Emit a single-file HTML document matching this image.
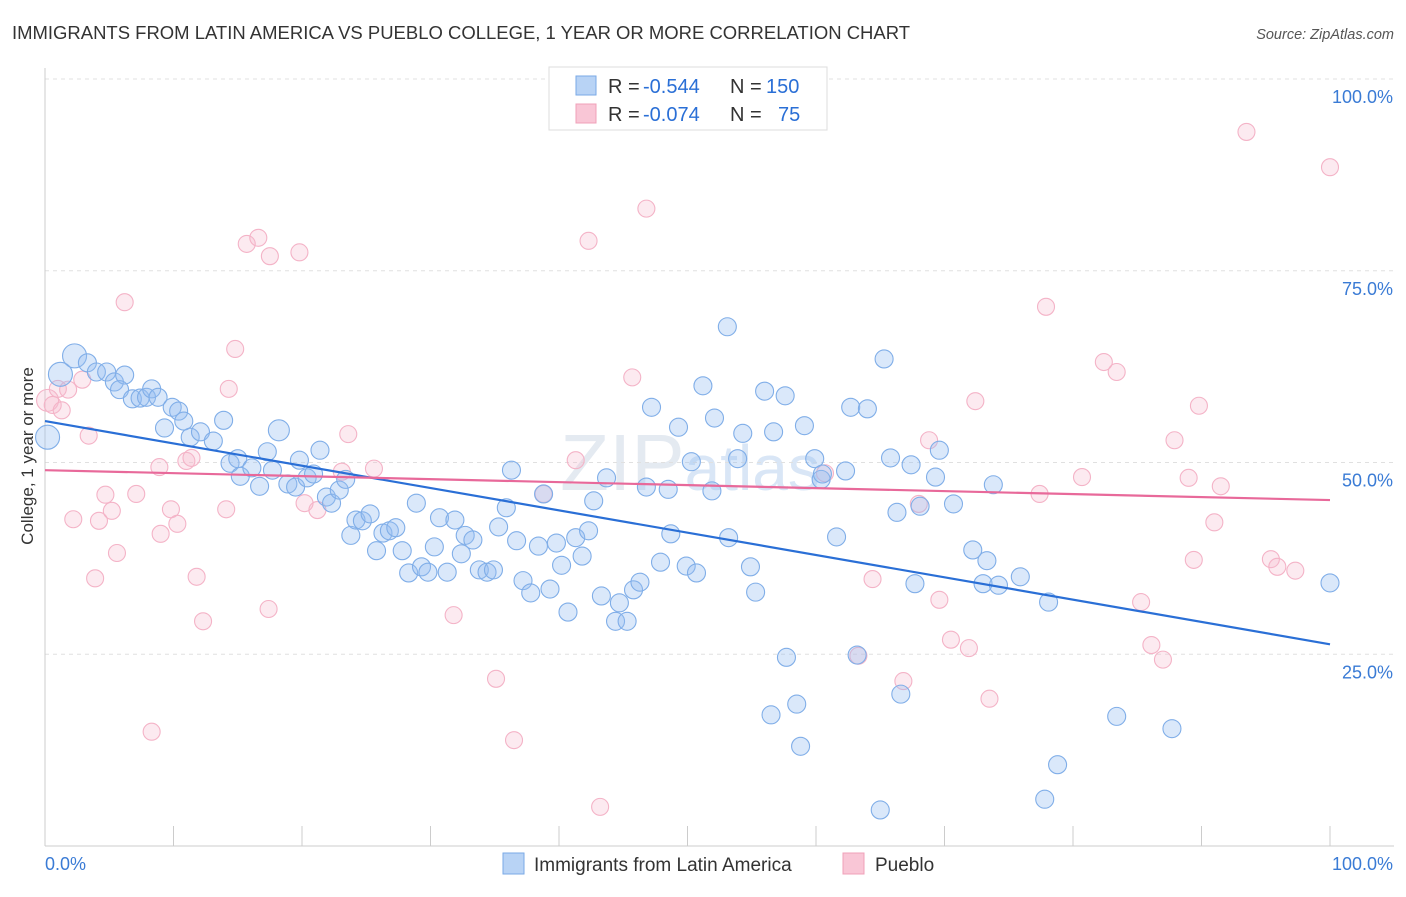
<!DOCTYPE html>
<html><head><meta charset="utf-8"><style>
body{margin:0;background:#fff;font-family:"Liberation Sans",sans-serif}
svg text{font-family:"Liberation Sans",sans-serif}
</style></head><body>
<svg id="chart" width="1406" height="892" viewBox="0 0 1406 892">
<text x="12" y="39" font-size="18.3" fill="#333" textLength="898" lengthAdjust="spacingAndGlyphs">IMMIGRANTS FROM LATIN AMERICA VS PUEBLO COLLEGE, 1 YEAR OR MORE CORRELATION CHART</text>
<text x="1394" y="39" font-size="14.5" fill="#555" text-anchor="end" font-style="italic">Source: ZipAtlas.com</text>
<text x="690" y="490" font-size="80" fill="#e4eaf1" text-anchor="middle" font-family="Liberation Serif">ZIP<tspan fill="#d9e6f6" font-family="Liberation Sans" font-size="64">atlas</tspan></text>
<g id="grid"></g>
<g id="axes"></g>
<g id="marks"></g>
<text transform="translate(33,456) rotate(-90)" font-size="17" fill="#333" text-anchor="middle">College, 1 year or more</text>
<g>
<rect x="549" y="67" width="278" height="63" fill="#fff" stroke="#ddd"/>
<rect x="576" y="76" width="20" height="19" fill="#b8d3f5" stroke="#7aaae6"/>
<rect x="576" y="104" width="20" height="19" fill="#f9c6d6" stroke="#f0a0b8"/>
<text x="608" y="93" font-size="20" fill="#333">R =</text>
<text x="643" y="93" font-size="20" fill="#2a6fd6">-0.544</text>
<text x="730" y="93" font-size="20" fill="#333">N =</text>
<text x="766" y="93" font-size="20" fill="#2a6fd6">150</text>
<text x="608" y="121" font-size="20" fill="#333">R =</text>
<text x="643" y="121" font-size="20" fill="#2a6fd6">-0.074</text>
<text x="730" y="121" font-size="20" fill="#333">N =</text>
<text x="778" y="121" font-size="20" fill="#2a6fd6">75</text>
</g>
<g>
<rect x="503" y="853" width="21" height="21" fill="#b8d3f5" stroke="#7aaae6"/>
<text x="534" y="871" font-size="19" fill="#333">Immigrants from Latin America</text>
<rect x="843" y="853" width="21" height="21" fill="#f9c6d6" stroke="#f0a0b8"/>
<text x="875" y="871" font-size="19" fill="#333">Pueblo</text>
</g>
</svg>
<script>
const yTicks=[100,75,50,25];
const yTickLabels=["100.0%","75.0%","50.0%","25.0%"];
const xTicks=[0,10,20,30,40,50,60,70,80,90,100];
const blueX=[0.2,1.2,2.3,3.3,4.0,4.8,5.4,6.2,5.8,6.8,7.4,7.9,8.3,8.8,9.3,9.9,10.4,10.8,11.3,12.1,13.1,13.9,14.4,15.2,15.0,16.1,16.7,17.3,17.7,18.2,18.9,19.5,19.8,20.4,20.9,21.4,21.9,22.3,22.9,23.4,23.8,24.2,24.7,25.3,25.8,26.3,26.8,27.3,27.8,28.3,28.9,29.3,29.8,30.3,30.7,31.3,31.9,32.4,32.7,33.3,33.8,34.4,34.9,35.3,35.9,36.3,36.7,37.2,37.8,38.4,38.8,39.3,39.8,40.2,40.7,41.3,41.8,42.3,42.7,43.3,43.7,44.4,44.7,45.3,45.8,46.3,46.8,47.2,47.9,48.5,48.7,49.3,49.9,50.3,50.7,51.2,51.9,52.1,53.1,53.2,53.9,54.3,54.9,55.3,56.0,56.5,56.7,57.6,57.7,58.5,58.8,59.1,59.9,60.4,60.5,61.6,62.3,62.7,63.2,64.0,65.0,65.3,65.8,66.3,66.6,67.4,67.7,68.1,69.3,69.6,70.7,72.2,73.0,73.3,73.8,74.2,75.9,77.8,78.1,78.8,83.4,87.7,100];
const blueY=[53.3,61.5,63.9,63.0,61.8,61.8,60.5,61.4,59.5,58.3,58.4,58.5,59.6,58.5,54.5,57.2,56.7,55.4,53.3,54.0,52.8,55.5,49.9,48.2,50.5,49.3,46.9,51.4,49.0,54.2,47.2,46.8,50.3,48.0,48.5,51.6,45.5,44.7,46.4,47.8,40.5,42.5,42.4,43.3,38.5,40.8,41.1,41.5,38.5,35.6,44.7,36.4,35.7,39.0,42.8,35.7,42.5,38.1,40.5,39.9,36.0,35.7,36.0,41.6,44.1,49.0,39.8,34.6,33.0,39.1,45.9,33.5,39.5,36.6,30.5,40.2,37.8,41.1,45.0,32.6,48.0,29.3,31.7,29.3,33.4,34.4,46.8,57.2,37.0,46.5,40.7,54.6,36.5,50.1,35.6,60.0,46.3,55.8,67.7,40.2,50.5,53.8,36.4,33.1,59.3,17.1,54.0,58.7,24.6,18.5,13.0,54.8,50.5,47.8,48.5,40.3,48.9,57.2,24.9,57.0,4.7,63.5,50.6,43.5,19.8,49.7,34.2,44.3,48.1,51.6,44.6,38.6,34.2,37.2,47.1,34.0,35.1,6.1,31.8,10.6,16.9,15.3,34.3];
const pinkX=[0.2,0.6,1.0,1.3,1.8,2.9,3.4,2.2,3.9,4.2,4.7,5.2,5.6,6.2,7.1,8.3,8.9,9.0,9.8,10.3,11.0,11.4,11.8,12.3,14.1,14.3,14.8,15.7,16.6,17.5,17.4,19.8,20.2,21.2,23.1,23.6,25.6,31.8,35.1,36.5,38.8,41.3,42.3,43.2,45.7,46.8,60.7,63.3,64.4,66.8,68.0,68.8,69.6,70.5,71.9,72.4,73.5,77.4,77.9,80.7,82.4,83.4,85.3,86.1,87.0,87.9,89.0,89.4,89.8,91.0,91.5,93.5,95.4,95.9,97.3,100];
const pinkY=[58.1,57.5,59.6,56.8,59.5,60.8,53.5,42.6,34.9,42.4,45.8,43.7,38.2,70.9,45.9,14.9,49.4,40.7,43.9,42.0,50.2,50.6,35.1,29.3,43.9,59.6,64.8,78.5,79.3,76.9,30.9,77.4,44.7,43.8,48.8,53.7,49.2,30.1,21.8,13.8,45.9,50.3,78.9,5.1,61.1,83.1,48.6,24.8,34.8,21.5,44.6,52.9,32.1,26.9,25.8,58.0,19.2,45.9,70.3,48.1,63.1,61.8,31.8,26.2,24.3,52.9,48.0,37.3,57.4,42.2,46.9,93.1,37.4,36.4,35.9,88.5];
const blueTrend=[55.4,26.3];
const pinkTrend=[49.0,45.1];
const NS="http://www.w3.org/2000/svg";
const X0=45,X1=1330,Y0=846,Y100=79;
const sx=v=>X0+(X1-X0)*v/100;
const sy=v=>Y0-(Y0-Y100)*v/100;
function mk(tag,attrs,parent){const e=document.createElementNS(NS,tag);for(const k in attrs)e.setAttribute(k,attrs[k]);parent.appendChild(e);return e;}
const grid=document.getElementById('grid'),axes=document.getElementById('axes'),marks=document.getElementById('marks');
yTicks.forEach((t,i)=>{
  const l=mk('line',{x1:X0,x2:1394,y1:sy(t),y2:sy(t),stroke:'#e0e0e0','stroke-dasharray':'4,4'},grid);
  
  
  const tx=mk('text',{x:1393,y:sy(t)+24,'font-size':18,fill:'#3a7bd5','text-anchor':'end'},axes);
  tx.textContent=yTickLabels[i];
  
  
});
const ax=mk('line',{x1:X0,x2:X1+64,y1:Y0,y2:Y0,stroke:'#ccc'},axes);


const ay=mk('line',{x1:X0,x2:X0,y1:68,y2:Y0,stroke:'#ccc'},axes);


xTicks.forEach(t=>{
  const l=mk('line',{x1:sx(t),x2:sx(t),y1:Y0,y2:Y0-20,stroke:'#ccc'},axes);
  
  
});
const xl0=mk('text',{x:45,y:870,'font-size':18,fill:'#3a7bd5'},axes);xl0.textContent='0.0%';


const xl1=mk('text',{x:1393,y:870,'font-size':18,fill:'#3a7bd5','text-anchor':'end'},axes);xl1.textContent='100.0%';


pinkX.forEach((x,i)=>{
  const c=mk('circle',{cx:sx(x),cy:sy(pinkY[i]),r:i===0?11:8.5,fill:'rgba(246,185,205,0.3)',stroke:'#f4b3c7','stroke-width':1.1},marks);
  
  
});
blueX.forEach((x,i)=>{
  const c=mk('circle',{cx:sx(x),cy:sy(blueY[i]),r:i<3?12:(i===29?10.5:9),fill:'rgba(150,190,240,0.35)',stroke:'#80aee8','stroke-width':1.1},marks);
  
  
});
const bl=mk('line',{x1:sx(0),y1:sy(blueTrend[0]),x2:sx(100),y2:sy(blueTrend[1]),stroke:'#2a6fd6','stroke-width':2.2},marks);


const pl=mk('line',{x1:sx(0),y1:sy(pinkTrend[0]),x2:sx(100),y2:sy(pinkTrend[1]),stroke:'#e8699a','stroke-width':2.2},marks);


</script>
</body></html>
